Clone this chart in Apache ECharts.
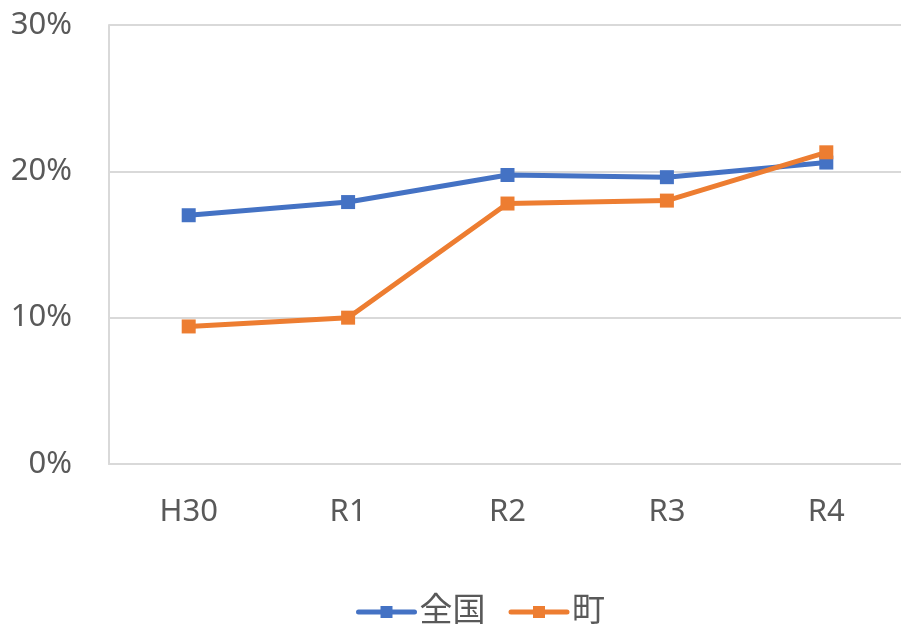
<!DOCTYPE html>
<html><head><meta charset="utf-8">
<script src="https://cdn.jsdelivr.net/npm/echarts@6/dist/echarts.min.js"></script>
<style>html,body{margin:0;padding:0;background:#fff}#c{width:901px;height:624px}</style>
</head><body><div id="c"></div>
<script>
const categories = ['H30','R1','R2','R3','R4'];
const zenkoku = [17.0, 17.9, 19.75, 19.6, 20.6];
const machi = [9.4, 10.0, 17.8, 18.0, 21.3];
const yTicks = [0, 10, 20, 30];
const seriesNames = ['全国','町'];

const font = '"Noto Sans", "Noto Sans CJK JP", sans-serif';
const chart = echarts.init(document.getElementById('c'));
chart.setOption({
  animation: false,
  grid: {left: 109, width: 797, top: 25, bottom: 160, outerBoundsMode: 'none', containLabel: false},
  legend: {
    top: 595, left: 356, padding: 0,
    itemWidth: 56, itemHeight: 15, itemGap: 23,
    lineStyle: {width: 5, cap: 'round'},
    textStyle: {fontSize: 33, lineHeight: 34, color: '#595959', fontFamily: font},
    data: seriesNames
  },
  xAxis: {
    type: 'category', data: categories, boundaryGap: true,
    axisLine: {lineStyle: {color: '#d9d9d9', width: 2}},
    axisTick: {show: false},
    axisLabel: {fontSize: 31, color: '#595959', margin: 33, fontFamily: font}
  },
  yAxis: {
    type: 'value', min: yTicks[0], max: yTicks[yTicks.length-1], interval: 10,
    axisLine: {show: true, lineStyle: {color: '#d9d9d9', width: 2}},
    axisTick: {show: false},
    splitLine: {lineStyle: {color: '#d9d9d9', width: 2}},
    axisLabel: {fontSize: 31, color: '#595959', margin: 37, fontFamily: font, formatter: v => v + '%'}
  },
  series: [
    {name: seriesNames[0], type: 'line', data: zenkoku, symbol: 'rect', symbolSize: 14,
     lineStyle: {width: 5, color: '#4472c4'}, itemStyle: {color: '#4472c4'}},
    {name: seriesNames[1], type: 'line', data: machi, symbol: 'rect', symbolSize: 14,
     lineStyle: {width: 5, color: '#ed7d31'}, itemStyle: {color: '#ed7d31'}}
  ]
});
</script></body></html>
